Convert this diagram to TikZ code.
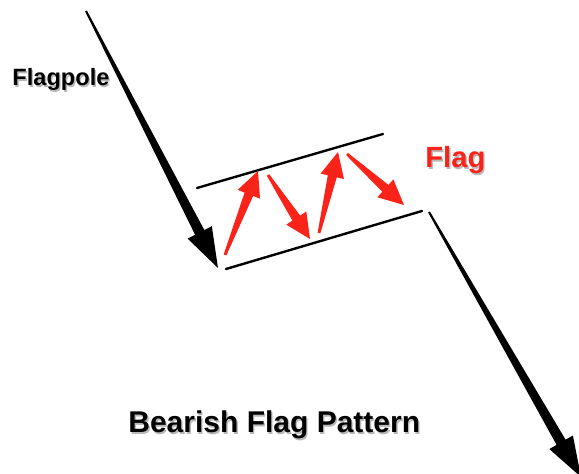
\documentclass[tikz,border=0pt]{standalone}
\usepackage{fontspec}
\setmainfont{Liberation Sans}
\usetikzlibrary{calc}
\definecolor{flagred}{RGB}{250,35,25}

% text with a soft grey drop shadow
\newcommand\shadowed[1]{\leavevmode\rlap{\raisebox{-0.9pt}{\hspace{0.7pt}\textcolor{black!28}{#1}}}#1}

% tapered arrow: from, to, tail half, neck half, head half, head length
\newcommand\fatarrow[7][black]{%
  \coordinate (neck) at ($(#3)!#7!(#2)$);
  \fill[#1] ($(#2)!#4!90:(#3)$) -- ($(neck)!#5!90:(#3)$) -- ($(neck)!#6!90:(#3)$) -- (#3)
    -- ($(neck)!#6!-90:(#3)$) -- ($(neck)!#5!-90:(#3)$) -- ($(#2)!#4!-90:(#3)$) -- cycle;}

\begin{document}
\begin{tikzpicture}[x=0.5pt, y=-0.5pt,
  lbl/.style={anchor=base west, inner sep=0pt, font=\bfseries},
  channel/.style={line width=1.2pt, line cap=round}]
\useasboundingbox[fill=white] (0,0) rectangle (579,474);

% flagpole and breakout
\coordinate (pole top) at (86,11);
\coordinate (pole end) at (218,268);
\coordinate (break start) at (429,212);
\coordinate (break end) at (581,477);

% channel
\coordinate (up left) at (197,188);
\coordinate (up right) at (383,134);
\coordinate (low left) at (226,269);
\coordinate (low right) at (422,211);

% swings inside the flag
\coordinate (s0) at (225,255);
\coordinate (s1) at (258,171);
\coordinate (s2) at (268,175);
\coordinate (s3) at (310,239);
\coordinate (s4) at (319,233);
\coordinate (s5) at (338,152);
\coordinate (s6) at (347,154);
\coordinate (s7) at (404,205);

\draw[channel] (up left) -- (up right);
\draw[channel] (low left) -- (low right);

\fatarrow{pole top}{pole end}{0.5pt}{2.6pt}{6.8pt}{20pt}
\fatarrow{break start}{break end}{0.5pt}{2.6pt}{6.8pt}{20pt}

\fatarrow[flagred]{s0}{s1}{0.7pt}{2.3pt}{6pt}{12.5pt}
\fatarrow[flagred]{s2}{s3}{0.7pt}{2.3pt}{6pt}{12.5pt}
\fatarrow[flagred]{s4}{s5}{0.7pt}{2.3pt}{6pt}{12.5pt}
\fatarrow[flagred]{s6}{s7}{0.7pt}{2.3pt}{6pt}{12.5pt}

\node[lbl, font=\fontsize{11.8}{14}\selectfont\bfseries] (flagpole) at (12,86) {\shadowed{Flagpole}};
\node[lbl, text=flagred, font=\fontsize{14.6}{17}\selectfont\bfseries] (flag) at (425,168) {\shadowed{Flag}};
\node[lbl, font=\fontsize{15}{18}\selectfont\bfseries] (title) at (128,433) {\shadowed{Bearish Flag Pattern}};
\end{tikzpicture}
\end{document}
